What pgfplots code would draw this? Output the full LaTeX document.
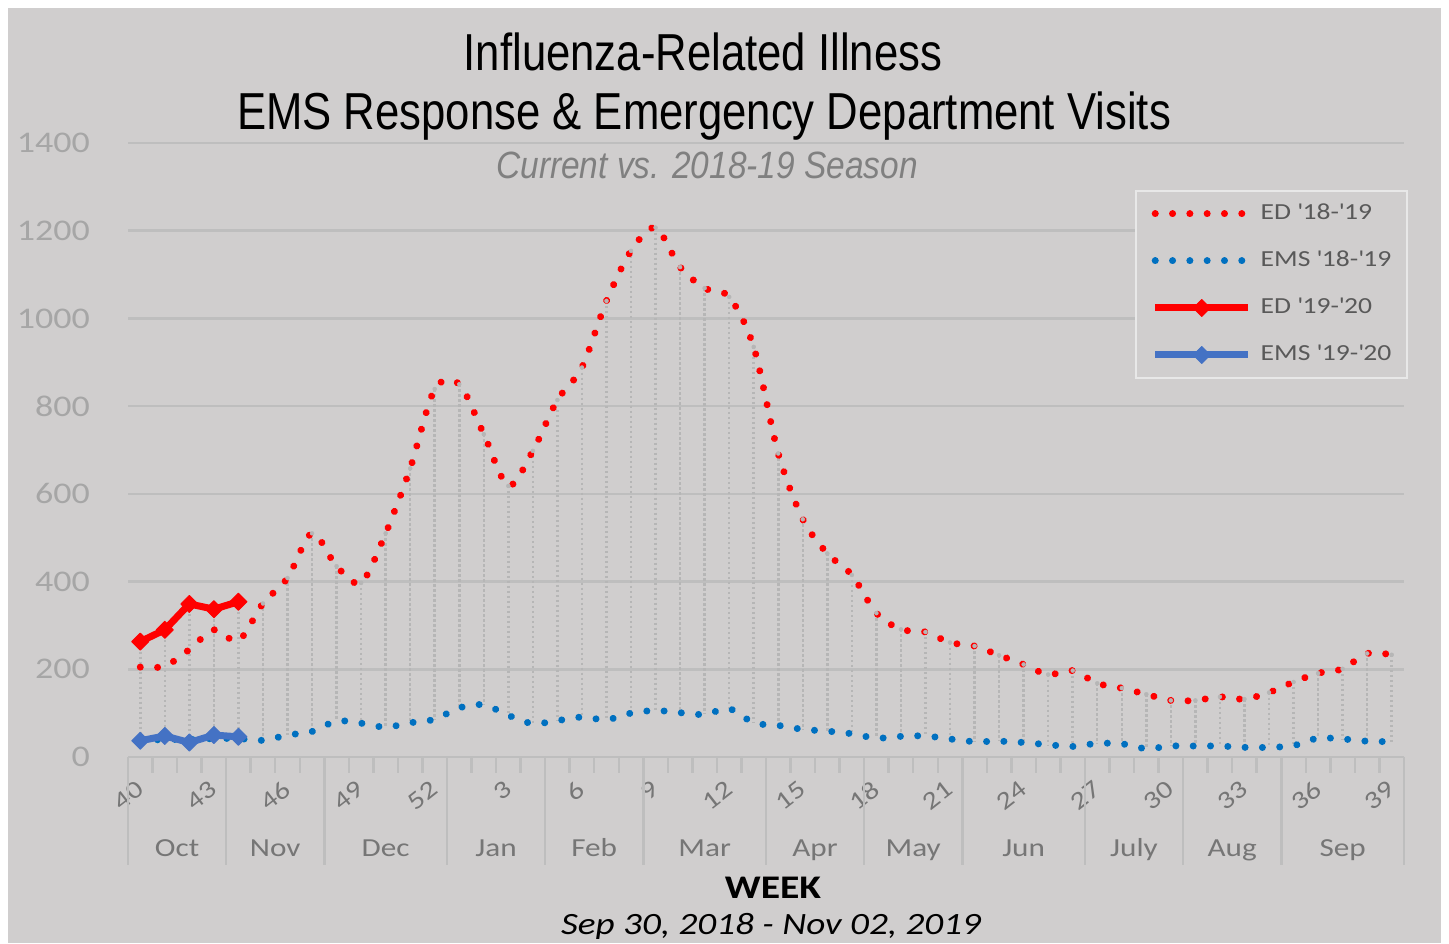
\documentclass[border=0pt]{standalone}
\usepackage{fontspec}
\setmainfont[FakeStretch=1.2]{Carlito}
\newfontfamily\titlefont[FakeStretch=0.84]{Liberation Sans}
\newfontfamily\subfont[FakeStretch=0.88]{Liberation Sans}
\usepackage{pgfplots}
\usepackage{pgfplotstable}
\pgfplotsset{compat=1.18}
\definecolor{bg}{RGB}{208,206,206}
\definecolor{gridc}{RGB}{190,190,190}
\definecolor{ylab}{RGB}{166,166,166}
\definecolor{xlab}{RGB}{118,118,118}
\definecolor{legtxt}{RGB}{89,89,89}
\definecolor{legborder}{RGB}{232,232,232}
\definecolor{subgray}{RGB}{128,128,128}
\definecolor{edred}{RGB}{255,0,0}
\definecolor{emsblue}{RGB}{0,112,192}
\definecolor{emstwo}{RGB}{68,114,196}
\definecolor{hl}{RGB}{182,182,182}
\newcommand{\q}{\textquotesingle}

\pgfplotstableread{
i ed ems hi
0 205 37 263
1 207 40 290
2 245 40 349
3 290 42 337
4 265 42 354
5 350 38 350
6 408 50 408
7 510 58 510
8 435 82 435
9 397 77 397
10 510 68 510
11 658 78 658
12 839 86 839
13 850 112 850
14 736 119 736
15 618 95 618
16 698 76 698
17 814 83 814
18 888 91 888
19 1040 85 1040
20 1154 100 1154
21 1207 106 1207
22 1117 101 1117
23 1069 97 1069
24 1049 110 1049
25 935 78 935
26 692 72 692
27 542 63 542
28 464 59 464
29 415 53 415
30 328 43 328
31 291 47 291
32 285 48 285
33 261 41 261
34 253 35 253
35 232 36 232
36 211 33 211
37 188 28 188
38 197 24 197
39 168 31 168
40 157 30 157
41 143 19 143
42 129 25 129
43 129 25 129
44 137 25 137
45 132 22 132
46 147 22 147
47 171 26 171
48 191 43 191
49 201 41 201
50 236 36 236
51 233 35 233
}\data

\pgfplotstableread{
i ed ems
0 263 37
1 290 48
2 349 33
3 337 50
4 354 46
}\cur

\begin{document}
\begin{tikzpicture}[x=1bp,y=1bp]
\fill[white] (0,0) rectangle (1449,943);
\fill[bg] (8,0) rectangle (1441,935);
\begin{axis}[
  at={(128bp,186bp)}, anchor=south west,
  scale only axis, width=1276bp, height=614bp,
  clip=false,
  xmin=-0.5, xmax=51.5, ymin=0, ymax=1400,
  ytick={0,200,...,1400},
  ymajorgrids,
  grid style={draw=gridc, line width=2.5bp},
  axis line style={draw=none},
  tick pos=left,
  tick align=outside,
  major tick length=0bp,
  y tick style={draw=none},
  /pgf/number format/assume math mode=true,
  /pgf/number format/1000 sep={},
  yticklabel style={font=\fontsize{30bp}{30bp}\selectfont, text=ylab, inner sep=0pt, anchor=east, xshift=-38bp},
  xtick={0,3,...,51},
  xticklabels={40,43,46,49,52,3,6,9,12,15,18,21,24,27,30,33,36,39},
  xticklabel style={font=\fontsize{25bp}{25bp}\selectfont, text=xlab, inner sep=0pt, xshift=0bp, yshift=-29bp, rotate=38, anchor=east},
  minor xtick={-0.5,0.5,...,51.5},
  minor tick length=16bp,
  minor x tick style={draw=gridc, line width=2.5bp},
  legend style={at={(0.789,0.9235)}, anchor=north west, fill=bg, draw=legborder, line width=2bp,
    font=\fontsize{23bp}{23bp}\selectfont, text=legtxt, inner xsep=16bp, inner ysep=12bp,
    row sep=25bp, column sep=9bp,
    nodes={inner sep=0pt, text height=17bp, text depth=5bp}},
  legend cell align=left,
  legend image code/.code={\draw[mark repeat=2,mark phase=2,#1] plot coordinates {(0bp,0bp) (46.5bp,0bp) (93bp,0bp)};},
]
\addplot[hl, forget plot, only marks, mark=none,
  error bars/.cd, y dir=minus, y explicit, error mark=none,
  error bar style={draw=hl, line width=2.5bp, dash pattern=on 2.5bp off 2.5bp}]
  table[x=i, y=hi, y error expr=\thisrow{hi}-\thisrow{ems}] {\data};
\addplot[edred, line width=7bp, line cap=round, dash pattern=on 0.01bp off 17.3bp, smooth, tension=0.5]
  table[x=i, y=ed] {\data};
\addlegendentry{ED \q18-\q19}
\addplot[emsblue, line width=7bp, line cap=round, dash pattern=on 0.01bp off 17.3bp, smooth, tension=0.5]
  table[x=i, y=ems] {\data};
\addlegendentry{EMS \q18-\q19}
\addplot[edred, line width=7bp, line join=round, mark=square*, mark size=6bp,
  mark options={solid, rotate=45, fill=edred, draw=edred, line width=1bp}]
  table[x=i, y=ed] {\cur};
\addlegendentry{ED \q19-\q20}
\addplot[emstwo, line width=7bp, line join=round, mark=square*, mark size=6bp,
  mark options={solid, rotate=45, fill=emstwo, draw=emstwo, line width=1bp}]
  table[x=i, y=ems] {\cur};
\addlegendentry{EMS \q19-\q20}
\foreach \b in {-0.5,3.5,7.5,12.5,16.5,20.5,25.5,29.5,33.5,38.5,42.5,46.5,51.5} {
  \edef\temp{\noexpand\draw[gridc, line width=2.5bp] (axis cs:\b,0) -- ([yshift=-108bp]axis cs:\b,0);}
  \temp
}
\foreach \m/\p in {Oct/1.5, Nov/5.5, Dec/10, Jan/14.5, Feb/18.5, Mar/23, Apr/27.5, May/31.5, Jun/36, July/40.5, Aug/44.5, Sep/49} {
  \edef\temp{\noexpand\node[font=\noexpand\fontsize{26bp}{26bp}\noexpand\selectfont, text=xlab, anchor=base, yshift=-100bp] at (axis cs:\p,0) {\m};}
  \temp
}
\end{axis}
\node[anchor=base, font=\titlefont\fontsize{52bp}{52bp}\selectfont] at (703,872) {Influenza-Related Illness};
\node[anchor=base, font=\titlefont\fontsize{52bp}{52bp}\selectfont] at (704,813) {EMS Response \& Emergency Department Visits};
\node[anchor=base, font=\subfont\itshape\fontsize{38bp}{38bp}\selectfont, text=subgray] at (707,764) {Current vs. 2018-19 Season};
\node[anchor=base, font=\bfseries\fontsize{33bp}{33bp}\selectfont] at (773,44) {WEEK};
\node[anchor=base, font=\itshape\fontsize{31bp}{31bp}\selectfont] at (771,8) {Sep 30, 2018 - Nov 02, 2019};
\end{tikzpicture}
\end{document}
